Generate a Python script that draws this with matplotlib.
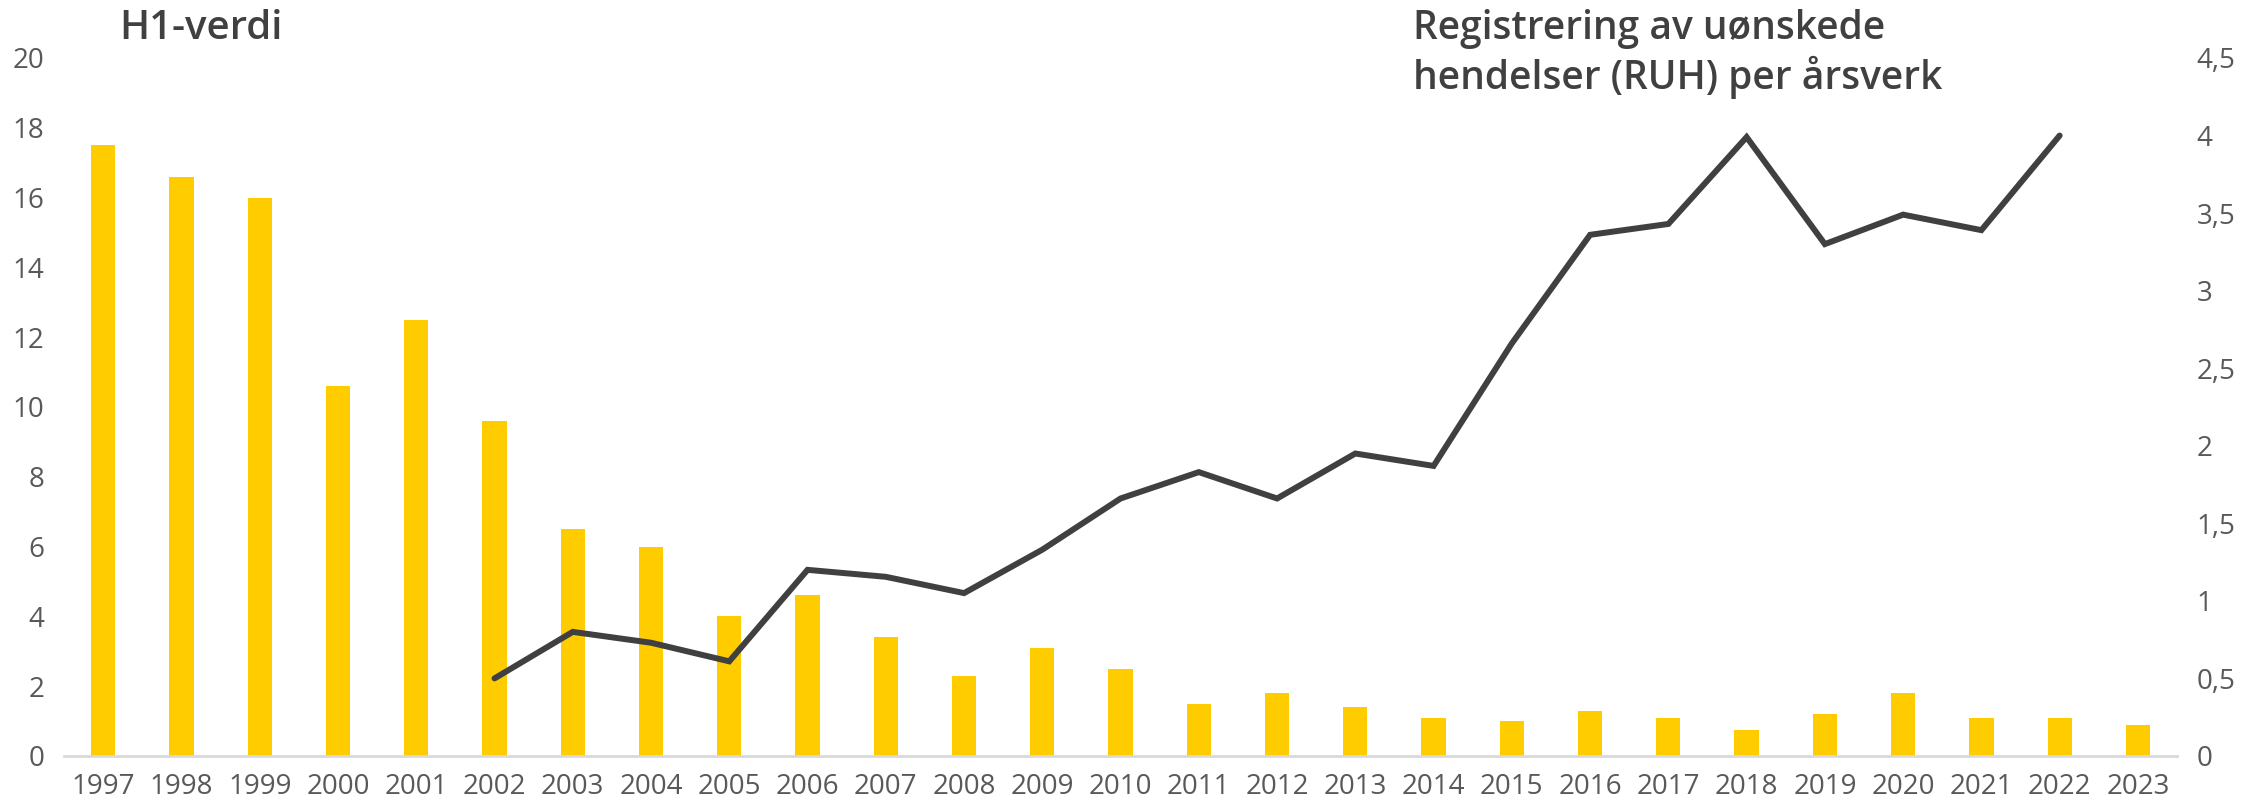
import matplotlib
matplotlib.use("Agg")
import matplotlib.pyplot as plt
from matplotlib import font_manager
import numpy as np

years = list(range(1997, 2024))
h1_values = [17.5, 16.6, 16.0, 10.6, 12.5, 9.6, 6.5, 6.0, 4.0, 4.6, 3.4, 2.3, 3.1, 2.5,
             1.5, 1.8, 1.4, 1.1, 1.0, 1.3, 1.1, 0.75, 1.2, 1.8, 1.1, 1.1, 0.9]
ruh_years = list(range(2002, 2023))
ruh_values = [0.50, 0.80, 0.73, 0.61, 1.20, 1.155, 1.05, 1.33, 1.66, 1.83, 1.66,
              1.95, 1.87, 2.66, 3.36, 3.43, 3.99, 3.30, 3.49, 3.39, 4.00]
left_ticks = [0, 2, 4, 6, 8, 10, 12, 14, 16, 18, 20]
right_ticks = [0, 0.5, 1, 1.5, 2, 2.5, 3, 3.5, 4, 4.5]
right_labels = ["0", "0,5", "1", "1,5", "2", "2,5", "3", "3,5", "4", "4,5"]

names = {f.name for f in font_manager.fontManager.ttflist}
fam = "Liberation Sans Narrow" if "Liberation Sans Narrow" in names else "Open Sans"
plt.rcParams["font.family"] = [fam, "DejaVu Sans"]

fig = plt.figure(figsize=(22.49, 8.02), dpi=100)
ax = fig.add_axes([0.0285, 0.0574, 0.968 - 0.0285, 0.9277 - 0.0574])
x = np.arange(len(years))
ax.bar(x, h1_values, width=0.31, color="#FFCC00", zorder=2)
ax.set_xlim(-0.5, len(years) - 0.5)
ax.set_ylim(0, 20)
ax.set_yticks(left_ticks)
ax.set_xticks(x)
ax.set_xticklabels([str(y) for y in years])
for s in ["top", "right", "left"]:
    ax.spines[s].set_visible(False)
ax.spines["bottom"].set_color("#D9D9D9")
ax.spines["bottom"].set_linewidth(2)
ax.tick_params(axis="both", length=0, labelsize=20, colors="#595959")
ax.tick_params(axis="x", pad=12)
ax.tick_params(axis="y", pad=14)

ax2 = ax.twinx()
rx = [years.index(y) for y in ruh_years]
ax2.plot(rx, ruh_values, color="#404040", linewidth=4.3, solid_capstyle="round",
         solid_joinstyle="miter", zorder=3)
ax2.set_ylim(0, 4.5)
ax2.set_yticks(right_ticks)
ax2.set_yticklabels(right_labels)
for s in ["top", "right", "left", "bottom"]:
    ax2.spines[s].set_visible(False)
ax2.tick_params(axis="y", length=0, labelsize=20, colors="#595959", pad=14)

fig.text(119 / 2249, 1 - 29 / 802, "H1-verdi", fontsize=29, color="#404040",
         fontweight="semibold", va="center", ha="left")
fig.text(1413 / 2249, 1 - 54 / 802, "Registrering av uønskede\nhendelser (RUH) per årsverk",
         fontsize=28, color="#404040", fontweight="semibold", va="center", ha="left",
         linespacing=1.2)

fig.savefig("out.png", dpi=100)
